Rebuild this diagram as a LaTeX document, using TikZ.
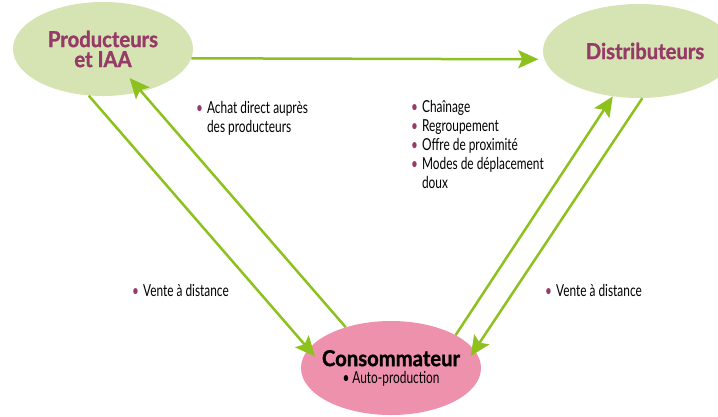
\documentclass[tikz,border=0pt]{standalone}
\usepackage{fontspec}
\setmainfont{Lato}[FakeStretch=0.72]
\newfontfamily\headfont{Lato}[FakeStretch=0.92, BoldFeatures={FakeBold=1.2}]
\usetikzlibrary{shapes.geometric, arrows.meta}

\definecolor{feuille}{HTML}{D6E3B3}
\definecolor{rose}{HTML}{EE91AC}
\definecolor{vert}{HTML}{8CC11E}
\definecolor{prune}{HTML}{963A68}

\tikzset{
	acteur/.style={ellipse, inner sep=0pt, minimum width=180pt, minimum height=94pt, align=center, font=\headfont\bfseries\fontsize{22}{20}\selectfont},
	flux/.style={draw=vert, line width=2.5pt, -{Stealth[length=20pt, width=18pt, inset=4pt]}},
	liste/.style={anchor=base west, inner sep=0pt, font=\fontsize{16.5}{19}\selectfont},
}
\newcommand{\puce}{\textcolor{prune}{\textbullet}}

\begin{document}
\begin{tikzpicture}[x=1pt, y=-1pt]
		\useasboundingbox (0,0) rectangle (718,416);
		\clip (0,0) rectangle (718,416);

		% Draw the three actors
		\node[acteur, fill=feuille, text=prune] (prod) at (103,49) {Producteurs\\et IAA};
		\node[acteur, fill=feuille, text=prune, minimum width=192pt] (dist) at (639,51) {\hspace*{12pt}Distributeurs};
		\node[acteur, fill=rose, inner xsep=-9pt, inner ysep=-4pt] (conso) at (391,368) {Consommateur\\[-3pt]{\mdseries\normalfont\fontsize{16.5}{19}\selectfont\textbullet\ Auto-production}};

		% Draw the flows
		\draw[flux, shorten >=6pt] (prod.-6.5) -- (dist.185.5);
		\draw[flux, shorten >=-10pt] (prod.-107) -- (conso.167);
		\draw[flux, shorten >=-18pt] (conso.138) -- (prod.-48);
		\draw[flux] (conso.27.6) -- (dist.-120);
		\draw[flux, shorten >=-7pt] (dist.-86) -- (conso.12.7);

		% Draw the labels
		\node[liste] (achat) at (196,113) {\begin{tabular}[t]{@{}l@{\hspace{4pt}}l@{}}\puce & Achat direct auprès\\ & des producteurs\end{tabular}};
		\node[liste] (logist) at (411,112) {\begin{tabular}[t]{@{}l@{\hspace{4pt}}l@{}}\puce & Chaînage\\ \puce & Regroupement\\ \puce & Offre de proximité\\ \puce & Modes de déplacement\\ & doux\end{tabular}};
		\node[liste] (venteg) at (132,296) {\puce\hspace{4pt}Vente à distance};
		\node[liste] (vented) at (545,296) {\puce\hspace{4pt}Vente à distance};

	\end{tikzpicture}
\end{document}
